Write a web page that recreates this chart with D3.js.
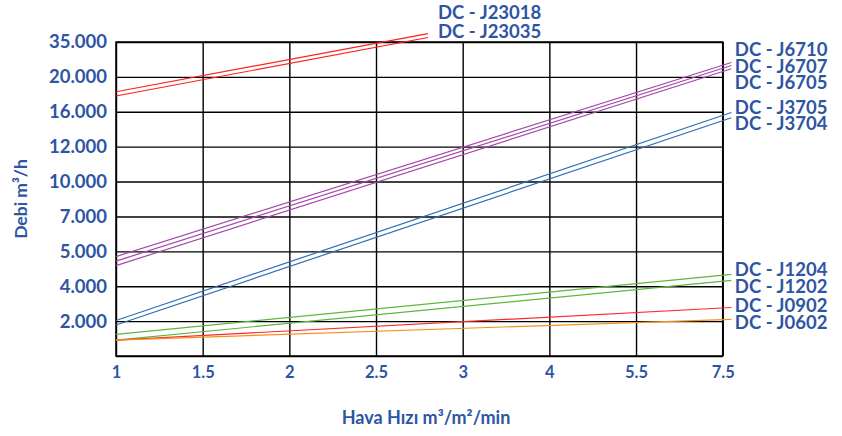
<!DOCTYPE html>
<html>
<head>
<meta charset="utf-8">
<script src="https://cdn.jsdelivr.net/npm/d3@7"></script>
<style>
  body { margin: 0; background: #fff; }
  text { font-family: Lato, "Open Sans", sans-serif; font-weight: bold; fill: #2e55a3; }
</style>
</head>
<body>
<div class="chart"></div>
<script>
// axis ticks (both axes are drawn evenly spaced, whatever the value)
var xTicks = [1, 1.5, 2, 2.5, 3, 4, 5.5, 7.5];
var yTicks = [0, 2000, 4000, 5000, 7000, 10000, 12000, 16000, 20000, 35000];

// one line per model: start and end of each line
var models = ['DC - J23018', 'DC - J23035', 'DC - J6710', 'DC - J6707', 'DC - J6705',
    'DC - J3705', 'DC - J3704', 'DC - J1204', 'DC - J1202', 'DC - J0902', 'DC - J0602'];
var hizFrom = [1, 1, 1, 1, 1, 1, 1, 1, 1, 1, 1];
var hizTo = [2.8, 2.8, 7.7, 7.7, 7.7, 7.7, 7.7, 7.7, 7.7, 7.7, 7.7];
var debiFrom = [18300, 17810, 4850, 4720, 4590, 2035, 1780, 1245, 915, 915, 915];
var debiTo = [38570, 36940, 26180, 24890, 23510, 15920, 15320, 4340, 4165, 2780, 2105];

var lineColors = ['#ff1f1f', '#ff1f1f', '#a34aa8', '#a34aa8', '#a34aa8',
    '#2f6db5', '#2f6db5', '#5cb83c', '#5cb83c', '#ff2a2a', '#f5901e'];

var width = 842;
var height = 436;
var margin = { top: 42, right: 119.3, bottom: 80, left: 116 };

var svg = d3.select('.chart')
    .append('svg')
    .attr('width', width)
    .attr('height', height);

var xPos = d3.scalePoint()
    .domain(xTicks)
    .range([margin.left, width - margin.right]);

var yPos = d3.scalePoint()
    .domain(yTicks)
    .range([height - margin.bottom, margin.top]);

// piecewise scales so that every tick sits on its own grid line
var x = d3.scaleLinear()
    .domain(xTicks)
    .range(xTicks.map(function(d) { return xPos(d); }));

var y = d3.scaleLinear()
    .domain(yTicks)
    .range(yTicks.map(function(d) { return yPos(d); }));

var dotted = d3.formatLocale({ decimal: ',', thousands: '.', grouping: [3], currency: ['', ''] }).format(',');

var plotH = height - margin.bottom - margin.top;
var plotW = width - margin.right - margin.left;

var xAxis = svg.append('g')
    .attr('transform', 'translate(0,' + (height - margin.bottom) + ')')
    .call(d3.axisBottom(x)
        .tickValues(xTicks)
        .tickSize(-plotH)
        .tickPadding(10)
        .tickFormat(function(d) { return String(d); }));

var yAxis = svg.append('g')
    .attr('transform', 'translate(' + margin.left + ',0)')
    .call(d3.axisLeft(y)
        .tickValues(yTicks)
        .tickSize(-plotW)
        .tickPadding(9)
        .tickFormat(function(d) { return d === 0 ? '' : dotted(d); }));

[xAxis, yAxis].forEach(function(axis) {
    axis.select('.domain').remove();
    axis.selectAll('line')
        .attr('stroke', '#000')
        .attr('stroke-width', 1.4);
    axis.selectAll('text')
        .attr('fill', null)
        .style('font-size', '18.5px');
});
xAxis.selectAll('text').style('font-size', '16.5px');

svg.append('rect')
    .attr('x', margin.left)
    .attr('y', margin.top)
    .attr('width', plotW)
    .attr('height', plotH)
    .attr('fill', 'none')
    .attr('stroke', '#000')
    .attr('stroke-width', 1.5);

var series = models.map(function(name, i) {
    return {
        name: name,
        color: lineColors[i],
        points: [[hizFrom[i], debiFrom[i]], [hizTo[i], debiTo[i]]]
    };
});

var line = d3.line()
    .x(function(d) { return x(d[0]); })
    .y(function(d) { return y(d[1]); });

svg.selectAll('.serie')
    .data(series)
    .enter()
    .append('path')
    .attr('class', 'serie')
    .attr('fill', 'none')
    .attr('stroke', function(d) { return d.color; })
    .attr('stroke-width', 1.2)
    .attr('d', function(d) { return line(d.points); });

// labels: the ones ending at the right edge are spread apart,
// the ones leaving the top are stacked above their line ends
var spacing = 16.8;
var rightLabels = series.filter(function(d) { return d.points[1][0] > 7.5; })
    .map(function(d) {
        var end = d.points[1];
        return { d: d, x: x(end[0]) + 3.5, target: y(end[1]) + 0.5 };
    })
    .sort(function(a, b) { return a.target - b.target; });

var groups = [];
rightLabels.forEach(function(l) {
    groups.push({ items: [l] });
    while (groups.length > 1) {
        var g = groups[groups.length - 1];
        var prev = groups[groups.length - 2];
        place(prev);
        place(g);
        var prevBottom = prev.top + (prev.items.length - 1) * spacing;
        if (g.top - prevBottom >= spacing) break;
        prev.items = prev.items.concat(g.items);
        groups.pop();
    }
    place(groups[groups.length - 1]);
});

function place(g) {
    var mean = d3.mean(g.items, function(l) { return l.target; });
    g.top = mean - (g.items.length - 1) * spacing / 2;
    g.items.forEach(function(l, i) { l.y = g.top + i * spacing; });
}

var topSeries = series.filter(function(d) { return d.points[1][0] <= 7.5; });
var lowestEnd = d3.max(topSeries, function(d) { return y(d.points[1][1]); });
var topLabels = topSeries.map(function(d, i) {
    return {
        d: d,
        x: x(d.points[1][0]) + 10,
        y: lowestEnd - 6.3 - (topSeries.length - 1 - i) * 19
    };
});

svg.selectAll('.label')
    .data(rightLabels.concat(topLabels))
    .enter()
    .append('text')
    .attr('class', 'label')
    .attr('x', function(l) { return l.x; })
    .attr('y', function(l) { return l.y; })
    .attr('dy', '0.35em')
    .style('font-size', '18.5px')
    .text(function(l) { return l.d.name; });

svg.append('text')
    .attr('transform', 'translate(21,199) rotate(-90)')
    .attr('text-anchor', 'middle')
    .attr('dy', '0.35em')
    .style('font-size', '17.5px')
    .text('Debi m³/h');

svg.append('text')
    .attr('x', 426)
    .attr('y', 418)
    .attr('text-anchor', 'middle')
    .attr('dy', '0.35em')
    .style('font-size', '18px')
    .text('Hava Hızı m³/m²/min');
</script>
</body>
</html>
